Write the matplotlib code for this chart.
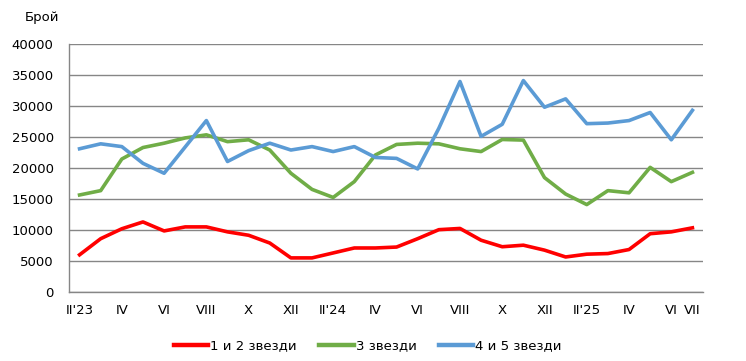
import matplotlib
matplotlib.use("Agg")
import matplotlib.pyplot as plt
import numpy as np

# months Feb 2023 .. Jul 2025
months = ["II'23", "III", "IV", "V", "VI", "VII", "VIII", "IX", "X", "XI", "XII", "I'24",
          "II'24", "III", "IV", "V", "VI", "VII", "VIII", "IX", "X", "XI", "XII", "I'25",
          "II'25", "III", "IV", "V", "VI", "VII"]

stars_1_2 = [6000, 8600, 10200, 11300, 9850, 10500, 10500, 9700, 9150, 7900, 5500, 5500,
             6300, 7100, 7100, 7250, 8600, 10050, 10250, 8350, 7300, 7550, 6750, 5650,
             6100, 6200, 6850, 9400, 9700, 10350]
stars_3 = [15650, 16350, 21450, 23300, 24000, 24850, 25350, 24250, 24550, 22900, 19150, 16550,
           15250, 17800, 22100, 23800, 24000, 23900, 23100, 22650, 24600, 24500, 18450, 15800,
           14100, 16350, 16000, 20100, 17800, 19300]
stars_4_5 = [23100, 23900, 23450, 20750, 19150, 23400, 27650, 21050, 22800, 24000, 22900, 23450,
             22650, 23450, 21700, 21550, 19850, 26400, 33950, 25100, 27050, 34100, 29800, 31150,
             27150, 27250, 27650, 28950, 24550, 29300]

series_names = ["1 и 2 звезди", "3 звезди", "4 и 5 звезди"]
colors = ["#FF0000", "#70AD47", "#5B9BD5"]

tick_idx = list(range(0, 30, 2)) + [29]
tick_labels = ["II'23", "IV", "VI", "VIII", "X", "XII", "II'24", "IV", "VI", "VIII", "X", "XII",
               "II'25", "IV", "VI", "VII"]

plt.rcParams['font.family'] = ['DejaVu Sans']

fig = plt.figure(figsize=(7.46, 3.61), dpi=100)
ax = fig.add_axes([69 / 746, 1 - 292 / 361, 634 / 746, 248 / 361])

x = np.arange(len(months))
for vals, name, c in zip([stars_1_2, stars_3, stars_4_5], series_names, colors):
    ax.plot(x, vals, color=c, linewidth=2.6, label=name, solid_joinstyle='round')

ax.set_xlim(-0.5, len(months) - 0.5)
ax.set_ylim(0, 40000)
ax.set_yticks(range(0, 40001, 5000))
ax.set_xticks(tick_idx)
ax.set_xticklabels(tick_labels)
ax.yaxis.grid(True, color="#868686", linewidth=1)
ax.set_axisbelow(True)
for s in ["top", "right"]:
    ax.spines[s].set_visible(False)
for s in ["left", "bottom"]:
    ax.spines[s].set_color("#868686")
    ax.spines[s].set_linewidth(1)
ax.tick_params(axis="both", length=0, labelsize=9.5, colors="black")
ax.tick_params(axis="x", pad=9)
ax.tick_params(axis="y", pad=11)

fig.text(25 / 746, 1 - 17 / 361, "Брой", fontsize=9.5, va="center", ha="left")

leg = fig.legend(loc="center", bbox_to_anchor=(368 / 746, 1 - 346 / 361), ncol=3, frameon=False,
                 fontsize=9.5, handlelength=2.6, columnspacing=1.7, handletextpad=0.15,
                 borderaxespad=0, borderpad=0)
for h in leg.get_lines():
    h.set_linewidth(3.2)

fig.savefig("out.png", dpi=100)
